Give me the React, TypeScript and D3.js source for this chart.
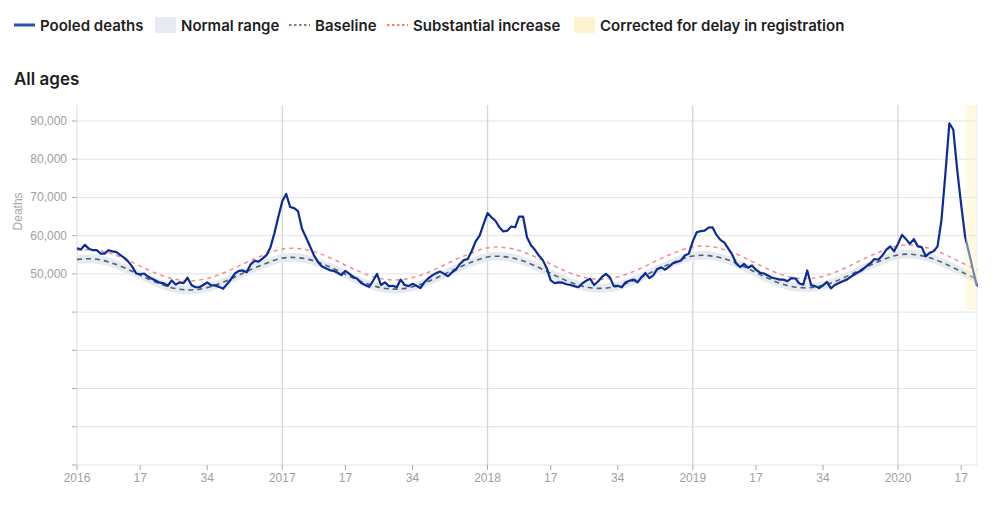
import React from "react";
import * as d3 from "d3";

// Week index: 0 = 2016 week 1, 52 = 2017 week 1, ... 208 = 2020 week 1
const pooledDeaths: number[] = [
  // 2016
  56700, 56400, 57600, 56600, 56200, 56200, 55300, 55300, 56200, 55900,
  55700, 54900, 54200, 53200, 51900, 50100, 49900, 50100, 49300, 48700,
  48200, 47700, 47500, 46900, 48300, 47200, 47800, 47600, 49000, 47100,
  46500, 46500, 47100, 47800, 47000, 47000, 46600, 46100, 47300, 48600,
  50100, 50800, 50900, 50400, 52500, 53400, 53200, 54000, 54900, 56900,
  60600, 64900,
  // 2017
  69000, 70900, 67500, 67200, 66400, 61800, 59600, 57300, 54900, 53200,
  52000, 51500, 51000, 50800, 50300, 49700, 50800, 50000, 49200, 48700,
  47600, 47100, 46600, 48200, 50000, 47100, 47800, 46800, 46900, 46500,
  48500, 47100, 46800, 47400, 46900, 46300, 47800, 48800, 49600, 50200,
  50600, 50000, 49400, 50400, 51100, 52600, 53600, 53900, 56000, 58500,
  60000, 63000,
  // 2018
  65900, 64800, 63900, 62200, 61100, 61300, 62400, 62200, 65000, 65000,
  59600, 57500, 56300, 54800, 53600, 51500, 48300, 47600, 47800, 47700,
  47300, 47100, 46800, 46500, 47500, 48200, 48700, 47100, 48000, 49200,
  50000, 49100, 46800, 46900, 46500, 47800, 48200, 48500, 47800, 49100,
  50200, 48900, 49600, 51300, 51700, 51100, 51900, 52800, 53100, 53500,
  54800, 55300,
  // 2019
  58500, 60900, 61200, 61300, 62100, 62200, 60200, 58900, 58200, 56600,
  55000, 52700, 51800, 52600, 51600, 52200, 51100, 50300, 50100, 49600,
  49000, 48800, 48500, 48500, 48100, 48900, 48800, 47500, 47200, 50900,
  47000, 46800, 46300, 47000, 47900, 46200, 47100, 47600, 48100, 48500,
  49200, 49900, 50500, 51100, 52000, 52800, 53900, 53700, 54800, 56300,
  57200, 55900,
  // 2020
  57900, 60200, 59100, 57900, 59100, 57200, 57000, 54600, 55500, 55900,
  57200, 64100, 76300, 89400, 87700, 77100, 68000, 59700, 55400, 51000,
  46700,
];

// Model curves, read every 4 weeks (index 0, 4, 8, ..., 228)
const modelWeeks: number[] = [
  0, 4, 8, 12, 16, 20, 24, 28, 32, 36, 40, 44, 48,
  52, 56, 60, 64, 68, 72, 76, 80, 84, 88, 92, 96, 100,
  104, 108, 112, 116, 120, 124, 128, 132, 136, 140, 144, 148, 152,
  156, 160, 164, 168, 172, 176, 180, 184, 188, 192, 196, 200, 204,
  208, 212, 216, 220, 224, 228,
];
const baseline: number[] = [
  53800, 53930, 53130, 51590, 49650, 47780, 46390, 45810, 46170, 47390, 49160, 51120, 52800,
  54110, 54230, 53420, 51860, 49900, 48000, 46600, 46010, 46370, 47610, 49400, 51380, 53080,
  54410, 54530, 53710, 52130, 50150, 48220, 46800, 46210, 46570, 47830, 49640, 51650, 53370,
  54660, 54780, 53950, 52350, 50350, 48400, 46960, 46360, 46730, 48000, 49830, 51860, 53600,
  54960, 55080, 54230, 52620, 50590, 48620,
];
const substantialIncrease: number[] = [
  56200, 56330, 55530, 53990, 52050, 50180, 48790, 48210, 48570, 49790, 51560, 53520, 55200,
  56510, 56630, 55820, 54260, 52300, 50400, 49000, 48410, 48770, 50010, 51800, 53780, 55480,
  56810, 56930, 56110, 54530, 52550, 50620, 49200, 48610, 48970, 50230, 52040, 54050, 55770,
  57060, 57180, 56350, 54750, 52750, 50800, 49360, 48760, 49130, 50400, 52230, 54260, 56000,
  57360, 57480, 56630, 55020, 52990, 51020,
];
const normalLow: number[] = [
  52650, 52780, 51980, 50440, 48500, 46630, 45240, 44660, 45020, 46240, 48010, 49970, 51650,
  52960, 53080, 52270, 50710, 48750, 46850, 45450, 44860, 45220, 46460, 48250, 50230, 51930,
  53260, 53380, 52560, 50980, 49000, 47070, 45650, 45060, 45420, 46680, 48490, 50500, 52220,
  53510, 53630, 52800, 51200, 49200, 47250, 45810, 45210, 45580, 46850, 48680, 50710, 52450,
  53810, 53930, 53080, 51470, 49440, 47470,
];
const normalHigh: number[] = [
  54950, 55080, 54280, 52740, 50800, 48930, 47540, 46960, 47320, 48540, 50310, 52270, 53950,
  55260, 55380, 54570, 53010, 51050, 49150, 47750, 47160, 47520, 48760, 50550, 52530, 54230,
  55560, 55680, 54860, 53280, 51300, 49370, 47950, 47360, 47720, 48980, 50790, 52800, 54520,
  55810, 55930, 55100, 53500, 51500, 49550, 48110, 47510, 47880, 49150, 50980, 53010, 54750,
  56110, 56230, 55380, 53770, 51740, 49770,
];

const xTickWeeks: number[] = [0, 16, 33, 52, 68, 85, 104, 120, 137, 156, 172, 189, 208, 224];
const xTickLabels: string[] = ["2016", "17", "34", "2017", "17", "34", "2018", "17", "34", "2019", "17", "34", "2020", "17"];
const yearWeeks: number[] = [52, 104, 156, 208];
const yGridValues: number[] = [0, 10000, 20000, 30000, 40000, 50000, 60000, 70000, 80000, 90000];
const yLabelValues: number[] = [50000, 60000, 70000, 80000, 90000];
const correctedFromWeek = 225.2;
const correctedBandBottom = 40500;

const legendItems = [
  { label: "Pooled deaths", kind: "line" },
  { label: "Normal range", kind: "rect", color: "#e7ecf2" },
  { label: "Baseline", kind: "dots", color: "#555" },
  { label: "Substantial increase", kind: "dots", color: "#ff4b4b" },
  { label: "Corrected for delay in registration", kind: "rect", color: "#fdf4cf" },
];
const legendX: number[] = [14, 155, 289, 387, 574];

const W = 1000;
const H = 505;
const left = 77;
const right = 977;
const plotTop = 105;

export default function App() {
  const x = d3.scaleLinear().domain([0, 228]).range([left, right]);
  const y = d3.scaleLinear().domain([0, 90000]).range([465, 121]);
  const lastWeek = pooledDeaths.length - 1;

  const deathLine = d3
    .line<number>()
    .x((_, i) => x(i))
    .y((d) => y(d))
    .curve(d3.curveLinear)(pooledDeaths) as string;

  const modelLine = (vals: number[]) =>
    d3
      .line<number>()
      .x((_, i) => x(modelWeeks[i]))
      .y((d) => y(d))
      .curve(d3.curveNatural)(vals) as string;

  const band = d3
    .area<number>()
    .x((_, i) => x(modelWeeks[i]))
    .y0((_, i) => y(normalLow[i]))
    .y1((_, i) => y(normalHigh[i]))
    .curve(d3.curveNatural)(modelWeeks) as string;

  const fmt = d3.format(",");
  const axisFont = "Liberation Sans, Arial, sans-serif";
  const legendFont = "Inter, 'Open Sans', sans-serif";

  return (
    <svg
      width={W}
      height={H}
      style={{ position: "absolute", left: 0, top: 0, background: "#fff" }}
    >
      {/* Legend */}
      {legendItems.map((it, k) => {
        const lx = legendX[k];
        return (
          <g key={it.label}>
            {it.kind === "line" && (
              <line x1={lx} x2={lx + 21} y1={25} y2={25} stroke="#2a4fb5" strokeWidth={3} />
            )}
            {it.kind === "rect" && (
              <rect x={lx} y={17} width={21} height={16} fill={it.color} />
            )}
            {it.kind === "dots" && (
              <line
                x1={lx}
                x2={lx + 21}
                y1={25}
                y2={25}
                stroke={it.color}
                strokeWidth={1.3}
                strokeDasharray="2.5,2.5"
              />
            )}
            <text
              x={lx + 26}
              y={30.5}
              fontFamily={legendFont}
              fontWeight={600}
              fontSize={15}
              fill="#1e1e1e"
            >
              {it.label}
            </text>
          </g>
        );
      })}

      {/* Title */}
      <text x={14} y={85} fontFamily={legendFont} fontWeight={600} fontSize={17} fill="#1e1e1e">
        All ages
      </text>

      {/* Horizontal grid */}
      {yGridValues.map((v) => (
        <g key={v}>
          <line x1={left} x2={right} y1={y(v)} y2={y(v)} stroke="#e3e3e3" strokeWidth={1} />
          <line x1={left - 5} x2={left} y1={y(v)} y2={y(v)} stroke="#aaa" strokeWidth={1} />
        </g>
      ))}
      {yLabelValues.map((v) => (
        <text
          key={v}
          x={67}
          y={y(v) + 4}
          textAnchor="end"
          fontFamily={axisFont}
          fontSize={12}
          fill="#a0a0a0"
        >
          {fmt(v)}
        </text>
      ))}
      <text
        transform={`translate(22,${y(70000) + 14}) rotate(-90)`}
        textAnchor="middle"
        fontFamily={axisFont}
        fontSize={12}
        fill="#a8a8a8"
      >
        Deaths
      </text>

      {/* Vertical year lines and axes */}
      {yearWeeks.map((w) => (
        <line key={w} x1={x(w)} x2={x(w)} y1={plotTop} y2={y(0)} stroke="#d6d6d6" strokeWidth={1.3} />
      ))}
      <line x1={left} x2={left} y1={plotTop} y2={y(0)} stroke="#dcdcdc" strokeWidth={1} />
      <line x1={right} x2={right} y1={plotTop} y2={y(0)} stroke="#ececec" strokeWidth={1} />

      {xTickWeeks.map((w, k) => (
        <g key={k}>
          <line x1={x(w)} x2={x(w)} y1={y(0)} y2={y(0) + 5} stroke="#aaa" strokeWidth={1} />
          <text
            x={x(w)}
            y={y(0) + 17}
            textAnchor="middle"
            fontFamily={axisFont}
            fontSize={12}
            fill="#a0a0a0"
          >
            {xTickLabels[k]}
          </text>
        </g>
      ))}

      {/* Normal range */}
      <path d={band} fill="#e6ebf1" />
      {/* Baseline */}
      <path
        d={modelLine(baseline)}
        fill="none"
        stroke="#5a5f66"
        strokeWidth={1.6}
        strokeDasharray="5,4"
      />
      {/* Substantial increase */}
      <path
        d={modelLine(substantialIncrease)}
        fill="none"
        stroke="#f48a86"
        strokeWidth={1.5}
        strokeDasharray="4,4"
      />
      {/* Pooled deaths */}
      <path d={deathLine} fill="none" stroke="#0b2b99" strokeWidth={2.2} strokeLinejoin="round" />

      {/* Corrected for delay band */}
      <rect
        x={x(correctedFromWeek)}
        y={plotTop}
        width={x(lastWeek) - x(correctedFromWeek)}
        height={y(correctedBandBottom) - plotTop}
        fill="#fdf1c2"
        opacity={0.45}
      />
    </svg>
  );
}
